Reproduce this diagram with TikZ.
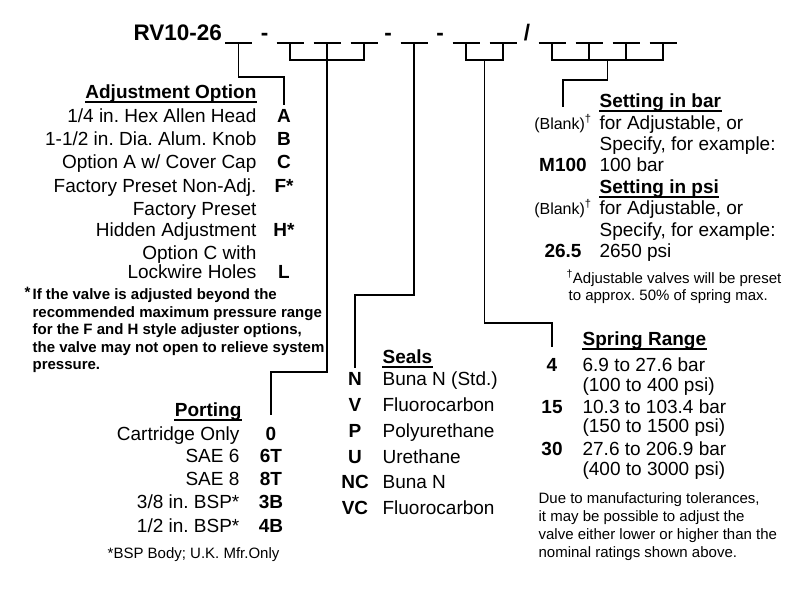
\documentclass[tikz,border=0pt]{standalone}
\usepackage{fontspec}
\setmainfont{Liberation Sans}
\frenchspacing
\begin{document}
\begin{tikzpicture}
    [x=1pt,y=-1pt,line width=1.2pt,
every node/.style={inner sep=0pt},
title/.style={font=\fontsize{22.5}{27}\selectfont\bfseries,anchor=base west},
hdr/.style={font=\fontsize{19}{22}\selectfont\bfseries},
code/.style={font=\fontsize{19}{22}\selectfont\bfseries,anchor=base},
desc/.style={font=\fontsize{19}{22}\selectfont},
small/.style={font=\fontsize{16}{18}\selectfont,anchor=base},
note/.style={font=\fontsize{15}{18}\selectfont,anchor=base west},
warn/.style={font=\fontsize{15}{17}\selectfont\bfseries,anchor=base west}
]
\useasboundingbox (0,0) rectangle (806,600);
  \node[title] (title) at (133,40) {RV10-26};
  \node[title,anchor=base] (dash1) at (264.5,40) {-};
  \node[title,anchor=base] (dash2) at (388,40) {-};
  \node[title,anchor=base] (dash3) at (440,40) {-};
  \node[title,anchor=base] (slash) at (527,40) {/};
  \coordinate (u1) at (238.5,43);
  \coordinate (u2a) at (290,43);
  \coordinate (u2b) at (327,43);
  \coordinate (u2c) at (364,43);
  \coordinate (u3) at (414,43);
  \coordinate (u4a) at (466,43);
  \coordinate (u4b) at (503,43);
  \coordinate (u4m) at (484.5,60);
  \coordinate (u5a) at (552,43);
  \coordinate (u5b) at (589,43);
  \coordinate (u5c) at (626,43);
  \coordinate (u5d) at (663,43);
  \coordinate (u5m) at (607.5,60);
  \foreach \u in {u1,u2a,u2b,u2c,u3,u4a,u4b,u5a,u5b,u5c,u5d}
    \draw ([xshift=-13.5pt]\u) -- ([xshift=13.5pt]\u);
  \draw (u2a) -- ++(0,17) -| (u2c);
  \draw (u4a) -- ++(0,17) -| (u4b);
  \draw (u5a) -- ++(0,17) -| (u5d);
  \draw (u5b) -- ++(0,17);
  \draw (u5c) -- ++(0,17);
  % adjustment option
  \node[hdr,anchor=base east] (hAdj) at (257,98) {Adjustment Option};
  \node[desc,anchor=base east] (adj1) at (257,122) {1/4 in. Hex Allen Head};
  \node[desc,anchor=base east] (adj2) at (257,145) {1-1/2 in. Dia. Alum. Knob};
  \node[desc,anchor=base east] (adj3) at (257,168) {Option A w/ Cover Cap};
  \node[desc,anchor=base east] (adj4) at (257,192) {Factory Preset Non-Adj.};
  \node[desc,anchor=base east] (adj5a) at (257,215) {Factory Preset};
  \node[desc,anchor=base east] (adj5) at (257,236) {Hidden Adjustment};
  \node[desc,anchor=base east] (adj6a) at (257,259) {Option C with};
  \node[desc,anchor=base east] (adj6) at (257,278) {Lockwire Holes};
  \node[code] (adjA) at (284,122) {A};
  \node[code] (adjB) at (284,145) {B};
  \node[code] (adjC) at (284,168) {C};
  \node[code] (adjF) at (284,192) {F*};
  \node[code] (adjH) at (284,236) {H*};
  \node[code] (adjL) at (284,278) {L};
  \draw[shorten >=3pt] (u1) -- ++(0,34) -| (adjA.north);
  \node[warn] (fnStar) at (24,297) {*};
  \node[warn] (fn1) at (32,299) {If the valve is adjusted beyond the};
  \node[warn] (fn2) at (32,317) {recommended maximum pressure range};
  \node[warn] (fn3) at (32,334) {for the F and H style adjuster options,};
  \node[warn] (fn4) at (32,352) {the valve may not open to relieve system};
  \node[warn] (fn5) at (32,369) {pressure.};
  % porting
  \node[hdr,anchor=base east] (hPort) at (242,416) {Porting};
  \node[desc,anchor=base east] (port1) at (240,440) {Cartridge Only};
  \node[desc,anchor=base east] (port2) at (240,462) {SAE 6};
  \node[desc,anchor=base east] (port3) at (240,485) {SAE 8};
  \node[desc,anchor=base east] (port4) at (240,508) {3/8 in. BSP*};
  \node[desc,anchor=base east] (port5) at (240,532) {1/2 in. BSP*};
  \node[code] (port0) at (271,440) {0};
  \node[code] (port6T) at (271,462) {6T};
  \node[code] (port8T) at (271,485) {8T};
  \node[code] (port3B) at (271,508) {3B};
  \node[code] (port4B) at (271,532) {4B};
  \node[note,anchor=base east] (portNote) at (280,558) {*BSP Body; U.K. Mfr.Only};
  \draw[shorten >=11pt] (u2b) -- ++(0,329) -| (port0.north);
  % seals
  \node[hdr,anchor=base west] (hSeal) at (382,363) {Seals};
  \node[code] (sealN) at (355,385) {N};
  \node[code] (sealV) at (355,411) {V};
  \node[code] (sealP) at (355,437) {P};
  \node[code] (sealU) at (355,463) {U};
  \node[code] (sealNC) at (355,488) {NC};
  \node[code] (sealVC) at (355,514) {VC};
  \node[desc,anchor=base west] (seal1) at (382,385) {Buna N (Std.)};
  \node[desc,anchor=base west] (seal2) at (382,411) {Fluorocarbon};
  \node[desc,anchor=base west] (seal3) at (382,437) {Polyurethane};
  \node[desc,anchor=base west] (seal4) at (382,463) {Urethane};
  \node[desc,anchor=base west] (seal5) at (382,488) {Buna N};
  \node[desc,anchor=base west] (seal6) at (382,514) {Fluorocarbon};
  \draw[shorten >=3pt] (u3) -- ++(0,252) -| (sealN.north);
  % spring range
  \node[hdr,anchor=base west] (hSpr) at (582,345) {Spring Range};
  \node[code] (spr4) at (552,371) {4};
  \node[code] (spr15) at (552,413) {15};
  \node[code] (spr30) at (552,455) {30};
  \node[desc,anchor=base west] (spr1) at (582,371) {6.9 to 27.6 bar};
  \node[desc,anchor=base west] (spr1b) at (582,391) {(100 to 400 psi)};
  \node[desc,anchor=base west] (spr2) at (582,413) {10.3 to 103.4 bar};
  \node[desc,anchor=base west] (spr2b) at (582,432) {(150 to 1500 psi)};
  \node[desc,anchor=base west] (spr3) at (582,455) {27.6 to 206.9 bar};
  \node[desc,anchor=base west] (spr3b) at (582,475) {(400 to 3000 psi)};
  \node[note] (sprNote1) at (538,503) {Due to manufacturing tolerances,};
  \node[note] (sprNote2) at (538,521) {it may be possible to adjust the};
  \node[note] (sprNote3) at (538,539) {valve either lower or higher than the};
  \node[note] (sprNote4) at (538,557) {nominal ratings shown above.};
  \draw[shorten >=10pt] (u4m) -- ++(0,263) -| (spr4.north);
  % setting
  \node[hdr,anchor=base west] (hBar) at (599,107) {Setting in bar};
  \node[small] (setBlank1) at (563,129) {(Blank)\textsuperscript{†}};
  \node[desc,anchor=base west] (bar1) at (599,129) {for Adjustable, or};
  \node[desc,anchor=base west] (bar2) at (599,150) {Specify, for example:};
  \node[code] (setM) at (563,171) {M100};
  \node[desc,anchor=base west] (bar3) at (599,171) {100 bar};
  \node[hdr,anchor=base west] (hPsi) at (599,193) {Setting in psi};
  \node[small] (setBlank2) at (563,214) {(Blank)\textsuperscript{†}};
  \node[desc,anchor=base west] (psi1) at (599,214) {for Adjustable, or};
  \node[desc,anchor=base west] (psi2) at (599,236) {Specify, for example:};
  \node[code] (setP) at (563,257) {26.5};
  \node[desc,anchor=base west] (psi3) at (599,257) {2650 psi};
  \node[note] (setNote1) at (566,283) {\textsuperscript{†}Adjustable valves will be preset};
  \node[note] (setNote2) at (568,300) {to approx. 50\% of spring max.};
  \draw[shorten >=7pt] (u5m) -- ++(0,20) -| (setBlank1.north);
  \foreach \h in {hAdj,hPort,hSeal,hSpr,hBar,hPsi}
    \draw ([yshift=-4pt]\h.base west) -- ([yshift=-4pt]\h.base east);
\end{tikzpicture}
\end{document}
